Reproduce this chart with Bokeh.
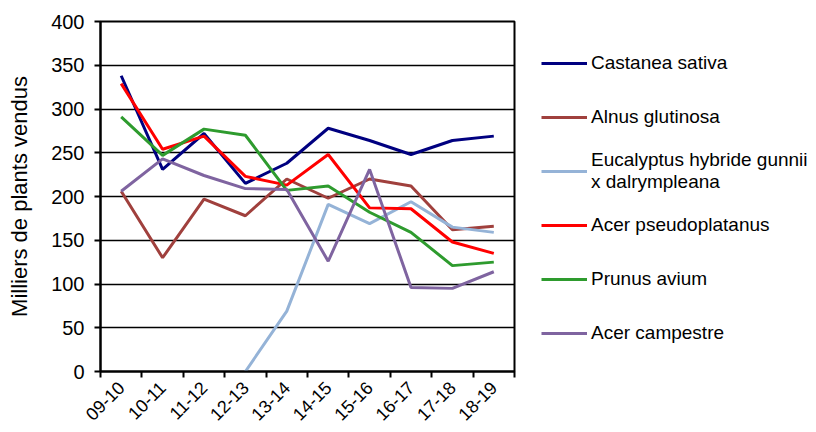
import math
from bokeh.plotting import figure
from bokeh.models import Legend, LegendItem, FixedTicker, Range1d
from bokeh.embed import file_html
from bokeh.resources import INLINE

nan = float("nan")
seasons = ["09-10", "10-11", "11-12", "12-13", "13-14", "14-15", "15-16", "16-17", "17-18", "18-19"]
castanea = [338, 231, 272, 215, 238, 278, 264, 248, 264, 269]
alnus = [206, 130, 197, 178, 220, 198, 220, 212, 162, 166]
eucalyptus = [nan, nan, nan, 0, 69, 191, 169, 194, 165, 159]
acer_pseudo = [329, 254, 269, 223, 213, 248, 187, 186, 148, 135]
prunus = [291, 247, 277, 270, 207, 212, 182, 159, 121, 125]
acer_camp = [206, 243, 224, 209, 208, 126, 231, 96, 95, 114]
y_ticks = [0, 50, 100, 150, 200, 250, 300, 350, 400]

series = [
    ("Castanea sativa", castanea, "#000080"),
    ("Alnus glutinosa", alnus, "#A0403D"),
    ("Eucalyptus hybride gunnii\nx dalrympleana", eucalyptus, "#95B3D7"),
    ("Acer pseudoplatanus", acer_pseudo, "#FF0000"),
    ("Prunus avium", prunus, "#2E9B2E"),
    ("Acer campestre", acer_camp, "#7F64A0"),
]

FONT = "Liberation Sans"
xs = list(range(1, len(seasons) + 1))

p = figure(frame_width=414, frame_height=350, output_backend="svg", toolbar_location=None,
           x_range=Range1d(0.5, len(seasons) + 0.5), y_range=Range1d(0, 400),
           min_border_left=100, min_border_right=0, min_border_top=21, min_border_bottom=61)
p.background_fill_color = "white"
p.border_fill_color = "white"
p.outline_line_color = "black"
p.outline_line_width = 2

items = []
for name, vals, col in series:
    r = p.line(xs, vals, line_color=col, line_width=3)
    items.append(LegendItem(label=name, renderers=[r]))

# axes
xa = p.xaxis[0]
xa.ticker = FixedTicker(ticks=xs, minor_ticks=[x - 0.5 for x in xs] + [xs[-1] + 0.5])
xa.major_label_overrides = {x: s for x, s in zip(xs, seasons)}
xa.major_tick_in = 0
xa.major_tick_out = 0
xa.minor_tick_in = 0
xa.minor_tick_out = 6
xa.minor_tick_line_color = "black"
xa.minor_tick_line_width = 2
xa.axis_line_color = "black"
xa.axis_line_width = 2
xa.major_label_orientation = math.pi / 4
xa.major_label_text_font = FONT
xa.major_label_text_font_size = "18px"
xa.major_label_text_color = "black"
xa.major_label_standoff = 7

ya = p.yaxis[0]
ya.ticker = FixedTicker(ticks=y_ticks)
ya.minor_tick_line_color = None
ya.major_tick_in = 0
ya.major_tick_out = 6
ya.major_tick_line_color = "black"
ya.major_tick_line_width = 2
ya.axis_line_color = "black"
ya.axis_line_width = 2
ya.major_label_text_font = FONT
ya.major_label_text_font_size = "20px"
ya.major_label_text_color = "black"
ya.major_label_standoff = 10
ya.axis_label = "Milliers de plants vendus"
ya.axis_label_text_font = FONT
ya.axis_label_text_font_size = "22px"
ya.axis_label_text_font_style = "normal"
ya.axis_label_text_color = "black"
ya.axis_label_standoff = 16

p.xgrid.visible = False
p.ygrid.ticker = FixedTicker(ticks=y_ticks)
p.ygrid.grid_line_color = "black"
p.ygrid.grid_line_width = 1.5

legend = Legend(items=items, location=(27, 11), orientation="vertical",
                glyph_width=46, glyph_height=54, label_height=54, spacing=0,
                padding=0, margin=0, label_standoff=4,
                label_text_font=FONT, label_text_font_size="19px", label_text_color="black",
                border_line_color=None, background_fill_alpha=0)
p.add_layout(legend, "right")

open("out.html", "w").write(file_html(p, INLINE))
